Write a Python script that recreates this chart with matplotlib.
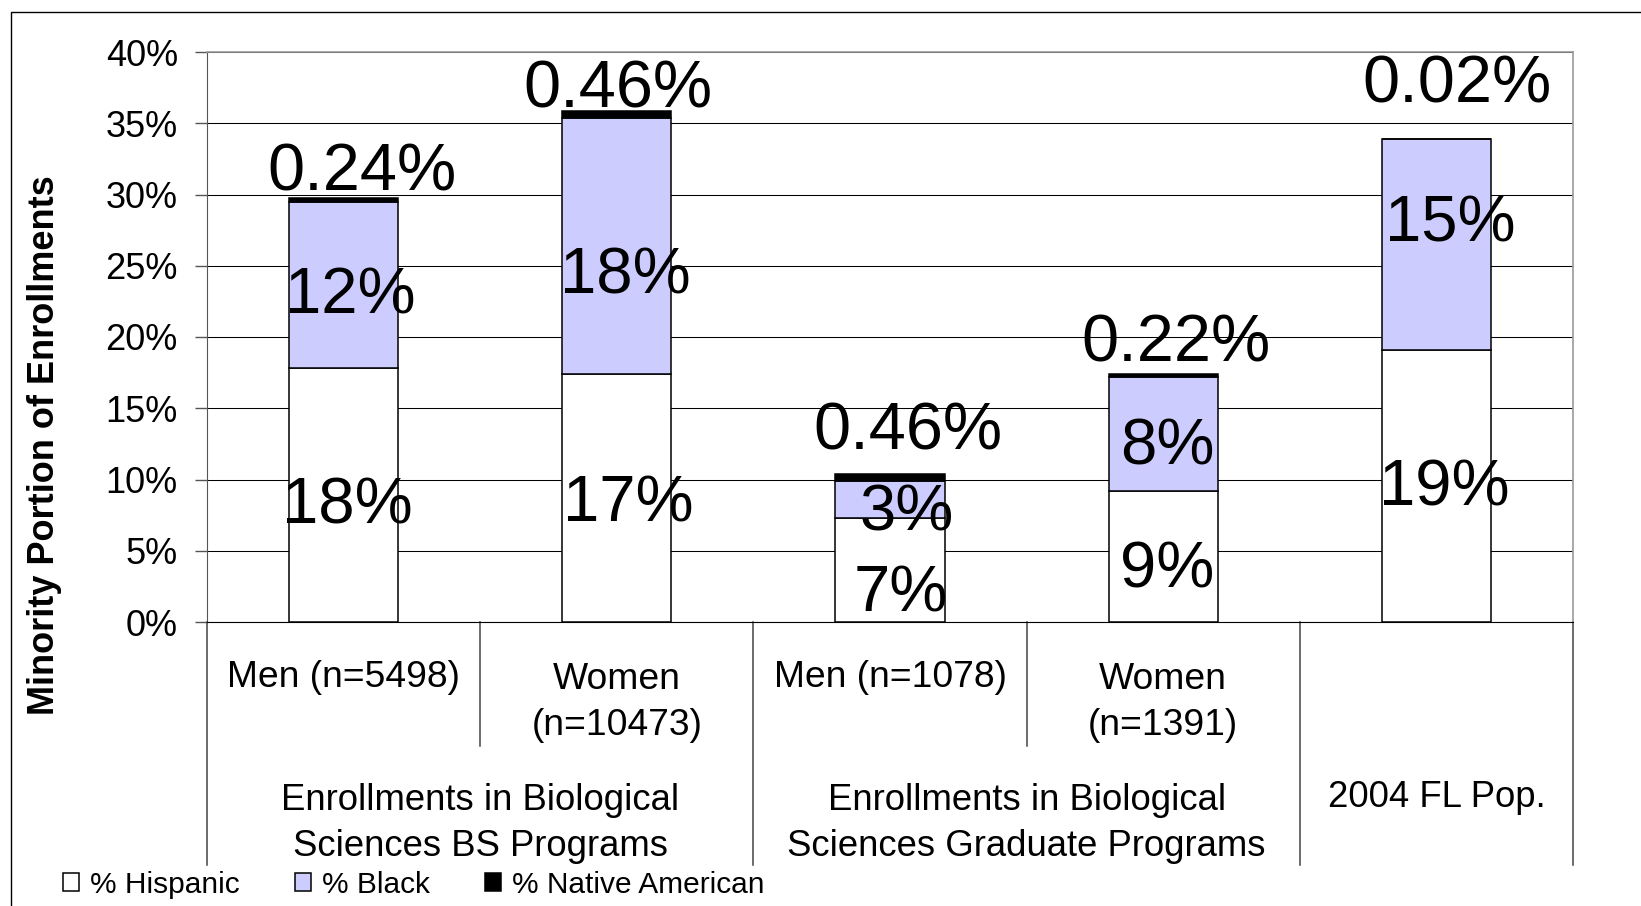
import numpy as np
import matplotlib
matplotlib.use('Agg')
import matplotlib.pyplot as plt
from matplotlib.patches import Rectangle
from matplotlib.lines import Line2D

plt.rcParams['font.family'] = ['Liberation Sans', 'DejaVu Sans']

# ---- data ----
sub_labels = ['Men (n=5498)', 'Women\n(n=10473)', 'Men (n=1078)', 'Women\n(n=1391)', '']
group_labels = ['Enrollments in Biological\nSciences BS Programs',
                'Enrollments in Biological\nSciences Graduate Programs',
                '2004 FL Pop.']
group_spans = [(0, 1), (2, 3), (4, 4)]
series_names = ['% Hispanic', '% Black', '% Native American']
hispanic = [17.8, 17.4, 7.3, 9.2, 19.1]
black = [11.7, 18.0, 2.6, 8.0, 14.8]
native = [0.24, 0.46, 0.46, 0.22, 0.02]
hispanic_txt = ['18%', '17%', '7%', '9%', '19%']
black_txt = ['12%', '18%', '3%', '8%', '15%']
native_txt = ['0.24%', '0.46%', '0.46%', '0.22%', '0.02%']

# label nudges (points)
native_off = [(13, 18), (1, 15), (13, 30), (9, 21), (15, 38)]
hisp_off = [(3, -8), (8, -5), (8, -18), (3, -10), (6, -2)]
black_off = [(5, -8), (6, -22), (12, -10), (3, -10), (10, 14)]

colors = ['#FFFFFF', '#CCCCFF', '#000000']

W, H = 1641, 906
fig = plt.figure(figsize=(W / 100, H / 100), dpi=100)
ax = fig.add_axes([207 / W, 1 - 622 / H, (1573 - 207) / W, (622 - 52) / H])

x = np.arange(len(hispanic))
bw = 0.4
b1 = ax.bar(x, hispanic, bw, color=colors[0], edgecolor='black', linewidth=1.1, zorder=3,
            label=series_names[0])
b2 = ax.bar(x, black, bw, bottom=hispanic, color=colors[1], edgecolor='black',
            linewidth=1.1, zorder=3, label=series_names[1])
bottom3 = np.array(hispanic) + np.array(black)
b3 = ax.bar(x, native, bw, bottom=bottom3, color=colors[2], edgecolor='black',
            linewidth=1.1, zorder=3, label=series_names[2])

ax.set_xlim(-0.5, 4.5)
ax.set_ylim(0, 40)
ax.set_yticks(np.arange(0, 41, 5))
ax.set_yticklabels([f'{v}%' for v in range(0, 41, 5)], fontsize=26)
ax.tick_params(axis='y', length=9, width=1, color='#555555', pad=12)
ax.set_xticks([])
ax.grid(axis='y', color='black', linewidth=0.75, zorder=0)
for s in ['top', 'right']:
    ax.spines[s].set_color('#999999')
    ax.spines[s].set_linewidth(1.2)
ax.spines['left'].set_color('#555555')
ax.spines['bottom'].set_color('black')

# data labels
for i in range(len(x)):
    ax.annotate(hispanic_txt[i], (x[i], hispanic[i] / 2), xytext=hisp_off[i],
                textcoords='offset points', ha='center', va='center', fontsize=47, zorder=5)
    ax.annotate(black_txt[i], (x[i], hispanic[i] + black[i] / 2), xytext=black_off[i],
                textcoords='offset points', ha='center', va='center', fontsize=47, zorder=5)
    ax.annotate(native_txt[i], (x[i], bottom3[i] + native[i]), xytext=native_off[i],
                textcoords='offset points', ha='center', va='center', fontsize=48, zorder=5)

# multi-level category axis
tr = ax.get_xaxis_transform()
for i, lab in enumerate(sub_labels):
    if not lab:
        continue
    yy = -0.098 if '\n' not in lab else -0.141
    ax.text(x[i], yy, lab, transform=tr, ha='center', va='center', fontsize=26.8,
            linespacing=1.4)
for (a, b), lab in zip(group_spans, group_labels):
    yy = -0.353 if '\n' in lab else -0.308
    ax.text((a + b) / 2, yy, lab, transform=tr, ha='center', va='center', fontsize=26.3,
            linespacing=1.42)
for xv in [-0.5, 1.5, 3.5, 4.5]:
    ax.add_line(Line2D([xv, xv], [0, -0.426], transform=tr, color='#444444',
                       linewidth=1.1, clip_on=False))
for xv in [0.5, 2.5]:
    ax.add_line(Line2D([xv, xv], [0, -0.218], transform=tr, color='#444444',
                       linewidth=1.1, clip_on=False))

fig.text(45 / W, 1 - 445 / H, 'Minority Portion of Enrollments', rotation=90,
         ha='center', va='center', fontsize=26, fontweight='bold')

fig.legend(handles=[b1, b2, b3], labels=series_names, loc='center left',
           bbox_to_anchor=(63 / W, 1 - 885 / H), ncol=3, frameon=False, fontsize=21.5,
           handlelength=0.55, handleheight=0.55, handletextpad=0.35, columnspacing=1.85,
           borderaxespad=0, borderpad=0)

# outer chart border (cut at right and bottom)
fig.add_artist(Rectangle((11 / W, -0.05), 1.2, 1 - 12 / H + 0.05, transform=fig.transFigure,
                         fill=False, edgecolor='black', linewidth=1.0))

fig.savefig('out.png', dpi=100)
